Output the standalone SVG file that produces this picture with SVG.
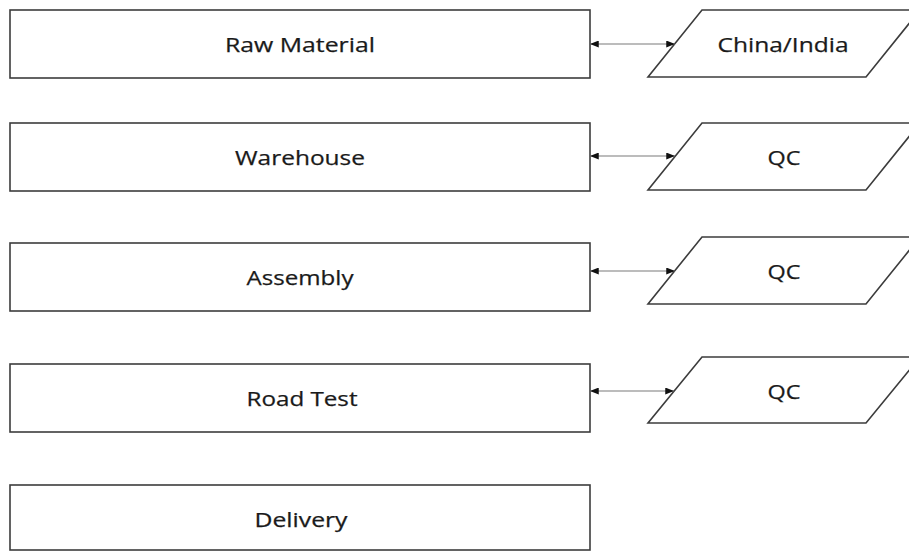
<svg xmlns="http://www.w3.org/2000/svg" width="909" height="552" viewBox="0 0 909 552">
<style>
.box{fill:#fff;stroke:#3c3c3c;stroke-width:1.6}
.lbl{font-family:"Open Sans","Liberation Sans",sans-serif;font-size:20.5px;fill:#1a1a1a;stroke:#1a1a1a;stroke-width:0.25;text-anchor:middle}
.conn{stroke:#7a7a7a;stroke-width:1.1;fill:none;marker-start:url(#ah);marker-end:url(#ah)}
</style>
<defs>
<marker id="ah" markerUnits="userSpaceOnUse" viewBox="0 0 10 8" refX="10" refY="4" markerWidth="9" markerHeight="7" orient="auto-start-reverse">
<path d="M0,0 L10,4 L0,8 Z" fill="#111"/>
</marker>
</defs>
<rect width="909" height="552" fill="#fff"/>
<g id="raw-material"><rect class="box" x="10" y="10" width="580" height="68"/><text class="lbl" x="300" y="52" textLength="150" lengthAdjust="spacingAndGlyphs">Raw Material</text></g>
<g id="china-india"><polygon class="box" points="702,10 920,10 866,77 648,77"/><text class="lbl" x="783" y="52" textLength="131" lengthAdjust="spacingAndGlyphs">China/India</text></g>
<g id="warehouse"><rect class="box" x="10" y="123" width="580" height="68"/><text class="lbl" x="300" y="165" textLength="130" lengthAdjust="spacingAndGlyphs">Warehouse</text></g>
<g id="qc1"><polygon class="box" points="702,123 920,123 866,190 648,190"/><text class="lbl" x="784" y="165" textLength="33" lengthAdjust="spacingAndGlyphs">QC</text></g>
<g id="assembly"><rect class="box" x="10" y="243" width="580" height="68"/><text class="lbl" x="300" y="285" textLength="107" lengthAdjust="spacingAndGlyphs">Assembly</text></g>
<g id="qc2"><polygon class="box" points="702,237 920,237 866,304 648,304"/><text class="lbl" x="784" y="279" textLength="33" lengthAdjust="spacingAndGlyphs">QC</text></g>
<g id="road-test"><rect class="box" x="10" y="364" width="580" height="68"/><text class="lbl" x="302" y="406" textLength="111" lengthAdjust="spacingAndGlyphs">Road Test</text></g>
<g id="qc3"><polygon class="box" points="702,357 920,357 866,423 648,423"/><text class="lbl" x="784" y="399" textLength="33" lengthAdjust="spacingAndGlyphs">QC</text></g>
<g id="delivery"><rect class="box" x="10" y="485" width="580" height="65"/><text class="lbl" x="301" y="527" textLength="93" lengthAdjust="spacingAndGlyphs">Delivery</text></g>
<g id="connectors">
<line class="conn" x1="590" y1="44" x2="675" y2="44"/>
<line class="conn" x1="590" y1="156" x2="675" y2="156"/>
<line class="conn" x1="590" y1="271" x2="675" y2="271"/>
<line class="conn" x1="590" y1="391" x2="674" y2="391"/>
</g>
</svg>
